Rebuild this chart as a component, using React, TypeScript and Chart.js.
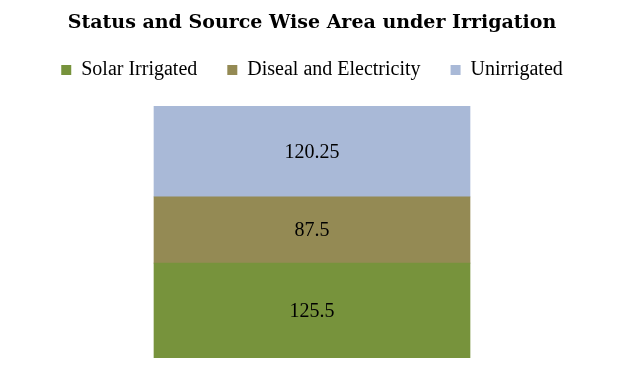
import React, { useEffect, useRef } from "react";
import { Chart, registerables } from "chart.js";

Chart.register(...registerables);

const categories = [""];
const seriesNames = ["Solar Irrigated", "Diseal and Electricity", "Unirrigated"];
const solarValues = [125.5];
const dieselValues = [87.5];
const unirrigatedValues = [120.25];
const seriesColors = ["#77933C", "#948A54", "#A9B9D7"];
const titleText = "Status and Source Wise Area under Irrigation";

const FONT = "'Liberation Serif', 'Times New Roman', serif";
const TITLE_FONT = "'DejaVu Serif', serif";

const valueLabels = {
  id: "valueLabels",
  afterDatasetsDraw(chart: any) {
    const ctx = chart.ctx;
    ctx.save();
    ctx.font = `20px ${FONT}`;
    ctx.fillStyle = "#000";
    ctx.textAlign = "center";
    ctx.textBaseline = "middle";
    chart.data.datasets.forEach((ds: any, i: number) => {
      const meta = chart.getDatasetMeta(i);
      meta.data.forEach((el: any, j: number) => {
        const v = ds.data[j];
        const props = el.getProps(["x", "y", "base"], true);
        ctx.fillText(String(v), props.x, (props.y + props.base) / 2 + 1);
      });
    });
    ctx.restore();
  },
};

const legendGap = {
  id: "legendGap",
  beforeInit(chart: any) {
    const legend = chart.legend;
    if (!legend) return;
    const origFit = legend.fit;
    legend.fit = function () {
      origFit.call(this);
      this.height += 16;
    };
  },
};

export default function App() {
  const ref = useRef<HTMLCanvasElement | null>(null);
  useEffect(() => {
    const total = solarValues[0] + dieselValues[0] + unirrigatedValues[0];
    const chart = new Chart(ref.current!, {
      type: "bar",
      data: {
        labels: categories,
        datasets: [
          { label: seriesNames[0], data: solarValues, backgroundColor: seriesColors[0] },
          { label: seriesNames[1], data: dieselValues, backgroundColor: seriesColors[1] },
          { label: seriesNames[2], data: unirrigatedValues, backgroundColor: seriesColors[2] },
        ],
      },
      options: {
        animation: false,
        responsive: true,
        maintainAspectRatio: false,
        layout: { padding: { left: 7, right: 0, top: 0, bottom: 15 } },
        datasets: { bar: { barThickness: 316 } } as any,
        scales: {
          x: { stacked: true, display: false },
          y: { stacked: true, display: false, min: 0, max: total },
        },
        plugins: {
          tooltip: { enabled: false },
          title: {
            display: true,
            text: titleText,
            color: "#000",
            font: { family: TITLE_FONT, size: 19, weight: "bold", lineHeight: 1.0 },
            padding: { top: 14, bottom: -3 },
          },
          legend: {
            display: true,
            position: "top",
            labels: {
              color: "#000",
              font: { family: FONT, size: 20 },
              boxWidth: 10,
              boxHeight: 10,
              padding: 30,
            },
          },
        },
      },
      plugins: [legendGap, valueLabels],
    });
    return () => chart.destroy();
  }, []);
  return (
    <div style={{ position: "absolute", left: 0, top: 0, width: 617, height: 373, background: "#fff" }}>
      <canvas ref={ref} />
    </div>
  );
}
